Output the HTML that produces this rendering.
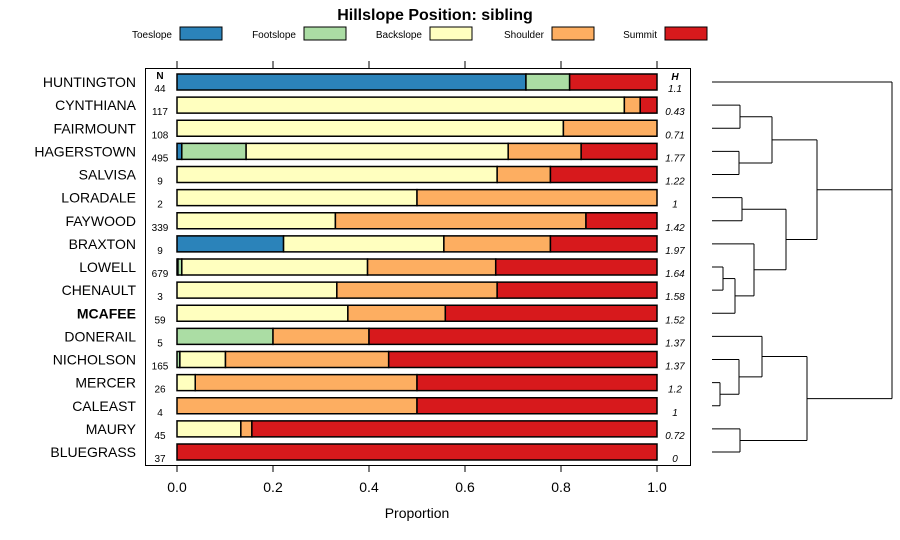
<!DOCTYPE html>
<html><head><meta charset="utf-8"><style>
body{margin:0;background:#fff;}
svg{display:block;font-family:"Liberation Sans",sans-serif;}
</style></head><body>
<svg id="c" width="900" height="540"></svg>
<script>
const soils=["HUNTINGTON","CYNTHIANA","FAIRMOUNT","HAGERSTOWN","SALVISA","LORADALE","FAYWOOD","BRAXTON","LOWELL","CHENAULT","MCAFEE","DONERAIL","NICHOLSON","MERCER","CALEAST","MAURY","BLUEGRASS"];
const nVals=[44,117,108,495,9,2,339,9,679,3,59,5,165,26,4,45,37];
const hVals=["1.1","0.43","0.71","1.77","1.22","1","1.42","1.97","1.64","1.58","1.52","1.37","1.37","1.2","1","0.72","0"];
const toeslope=[0.727,0,0,0.01,0,0,0,0.222,0.002,0,0,0,0,0,0,0,0];
const footslope=[0.091,0,0,0.134,0,0,0,0,0.008,0,0,0.2,0.006,0,0,0,0];
const backslope=[0,0.932,0.805,0.546,0.667,0.5,0.33,0.334,0.387,0.333,0.356,0,0.095,0.038,0,0.133,0];
const shoulder=[0,0.033,0.195,0.152,0.111,0.5,0.522,0.222,0.267,0.334,0.203,0.2,0.34,0.462,0.5,0.023,0];
const summit=[0.182,0.035,0,0.158,0.222,0,0.148,0.222,0.336,0.333,0.441,0.6,0.559,0.5,0.5,0.844,1];
const seriesNames=["Toeslope","Footslope","Backslope","Shoulder","Summit"];
const colors=["#2B83BA","#ABDDA4","#FFFFBF","#FDAE61","#D7191C"];
const ticks=[0,0.2,0.4,0.6,0.8,1.0];
const NS="http://www.w3.org/2000/svg";
const svg=document.getElementById("c");
function el(t,a,p){const e=document.createElementNS(NS,t);for(const k in a)e.setAttribute(k,a[k]);(p||svg).appendChild(e);return e;}
const x=v=>177+v*480;
const y=i=>82+i*23.125;
let t=el("text",{x:435,y:20,"text-anchor":"middle","font-size":16,"font-weight":"bold"});t.textContent="Hillslope Position: sibling";


const lx=[[172,180],[296,304],[422,430],[544,552],[657,665]];
seriesNames.forEach((s,k)=>{
  const g=el("g",{});
  
  
  const tt=el("text",{x:lx[k][0],y:38,"text-anchor":"end","font-size":10},g);tt.textContent=s;
  el("rect",{x:lx[k][1],y:27,width:42,height:13,fill:colors[k],stroke:"#000"},g);
});
const box=el("rect",{x:145.5,y:68.5,width:545,height:397,fill:"none",stroke:"#000"});


ticks.forEach(v=>{
  el("line",{x1:x(v),x2:x(v),y1:61,y2:68,stroke:"#000"});
  el("line",{x1:x(v),x2:x(v),y1:465,y2:472,stroke:"#000"});
  const tl=el("text",{x:x(v),y:492,"text-anchor":"middle","font-size":14});tl.textContent=v.toFixed(1);
  
  
});
t=el("text",{x:417,y:518,"text-anchor":"middle","font-size":14});t.textContent="Proportion";


t=el("text",{x:160,y:79,"text-anchor":"middle","font-size":10,"font-weight":"bold"});t.textContent="N";
t=el("text",{x:675,y:80,"text-anchor":"middle","font-size":10,"font-weight":"bold","font-style":"italic"});t.textContent="H";
const series=[toeslope,footslope,backslope,shoulder,summit];
soils.forEach((s,i)=>{
  const cy=y(i);
  const lab=el("text",{x:136,y:cy+5,"text-anchor":"end","font-size":14,"font-weight":s==="MCAFEE"?"bold":"normal"});lab.textContent=s;
  
  
  const n=el("text",{x:160,y:cy+10,"text-anchor":"middle","font-size":10});n.textContent=nVals[i];
  const h=el("text",{x:675,y:cy+10,"text-anchor":"middle","font-size":10,"font-style":"italic"});h.textContent=hVals[i];
  let c=0;
  series.forEach((arr,k)=>{
    const v=arr[i];
    if(v>0){
      const r=el("rect",{x:x(c),y:cy-8,width:x(c+v)-x(c),height:16,fill:colors[k],stroke:"#000","stroke-width":1.5});
      
      
    }
    c+=v;
  });
});
// dendrogram
const segs=[[712,740,1,1],[712,740,2,2],[740,740,1,2],[712,739,3,3],[712,739,4,4],[739,739,3,4],
[740,772,1.5,1.5],[739,772,3.5,3.5],[772,772,1.5,3.5],
[712,742,5,5],[712,742,6,6],[742,742,5,6],
[712,723,8,8],[712,723,9,9],[723,723,8,9],[723,735,8.5,8.5],[712,735,10,10],[735,735,8.5,10],
[712,754,7,7],[735,754,9.25,9.25],[754,754,7,9.25],
[742,786,5.5,5.5],[754,786,8.12,8.12],[786,786,5.5,8.12],
[772,817,2.5,2.5],[786,817,6.81,6.81],[817,817,2.5,6.81],
[712,720,13,13],[712,720,14,14],[720,720,13,14],[712,739,12,12],[720,739,13.5,13.5],[739,739,12,13.5],
[712,762,11,11],[739,762,12.75,12.75],[762,762,11,12.75],
[712,740,15,15],[712,740,16,16],[740,740,15,16],
[762,807,11.87,11.87],[740,807,15.5,15.5],[807,807,11.87,15.5],
[712,892,0,0],[817,892,4.66,4.66],[807,892,13.69,13.69],[892,892,0,13.69]];
const dg=el("g",{stroke:"#000","stroke-width":1,fill:"none"});


segs.forEach(s=>el("line",{x1:s[0],x2:s[1],y1:y(s[2]),y2:y(s[3])},dg));
</script>
</body></html>
